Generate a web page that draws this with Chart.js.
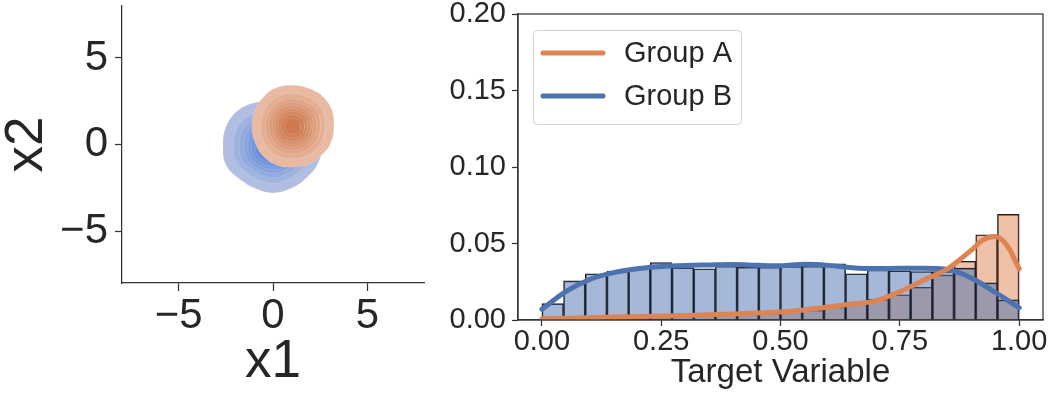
<!DOCTYPE html>
<html>
<head>
<meta charset="utf-8">
<script src="https://cdn.jsdelivr.net/npm/chart.js@4.4.1/dist/chart.umd.min.js"></script>
<style>
  html, body { margin: 0; padding: 0; background: #fff; }
  #wrap { position: relative; width: 1053px; height: 396px; overflow: hidden; }
  #kde2d { position: absolute; left: 0; top: 0; }
  #hist { position: absolute; left: 440px; top: 0; }
</style>
</head>
<body>
<div id="wrap">
  <canvas id="kde2d" width="440" height="396"></canvas>
  <canvas id="hist" width="613" height="396"></canvas>
</div>
<script>
// ---- left panel: bivariate density, one set of filled contours per group ----
const x1Ticks = [-5, 0, 5];
const x2Ticks = [-5, 0, 5];

// contour radii (x1 units), outermost first; aspect = y-radius / x-radius
const groupACenter = [1.05, 1.05];
const groupARadii = [2.2, 1.74, 1.47, 1.28, 1.1, 0.95, 0.79, 0.62, 0.42];
const groupAAspect = 1.09;
const groupAWobble = [0.99, 1.02, 1.02, 0.99, 0.99, 1.01, 1.0, 0.99, 0.98, 0.99, 1.01, 1.01, 0.98, 0.99, 0.98, 1.0];

const groupBCenter = [0.0, -0.12];
const groupBRadii = [2.65, 2.09, 1.78, 1.54, 1.33, 1.14, 0.95, 0.74, 0.5];
const groupBAspect = 1.01;
const groupBWobble = [0.98, 1.0, 1.0, 1.0, 0.97, 1.02, 1.05, 1.03, 1.0, 1.02, 0.97, 0.97, 1.0, 0.97, 0.95, 0.97];

// ---- right panel: histogram (probability per bin) + kde curves ----
const binCount = 22;
const groupABins = [0.0005, 0.001, 0.0012, 0.0015, 0.002, 0.002, 0.0025, 0.003, 0.0035, 0.004, 0.0045,
                    0.0055, 0.0065, 0.0085, 0.011, 0.0135, 0.0165, 0.0214, 0.0295, 0.0384, 0.0557, 0.069];
const groupBBins = [0.0107, 0.0256, 0.0302, 0.032, 0.0335, 0.0376, 0.0342, 0.0335, 0.0352, 0.0345, 0.0345,
                    0.035, 0.0352, 0.0367, 0.0302, 0.0327, 0.0322, 0.0317, 0.0317, 0.0339, 0.0243, 0.0132];

const kdeAx = [0, 0.1, 0.2, 0.3, 0.4, 0.5, 0.55, 0.6, 0.65, 0.7, 0.75, 0.8, 0.85, 0.9, 0.925, 0.95, 0.975, 1.0];
const kdeAy = [0.0008, 0.0015, 0.0022, 0.003, 0.004, 0.0052, 0.0066, 0.0085, 0.0105, 0.0125, 0.0185, 0.026,
               0.0335, 0.0457, 0.0525, 0.0545, 0.0485, 0.0335];
const kdeBx = [0, 0.05, 0.1, 0.15, 0.2, 0.25, 0.3, 0.35, 0.4, 0.45, 0.5, 0.55, 0.6, 0.65, 0.7, 0.75, 0.8,
               0.85, 0.9, 0.95, 1.0];
const kdeBy = [0.007, 0.0185, 0.0265, 0.031, 0.0335, 0.035, 0.0357, 0.036, 0.0363, 0.0358, 0.0354, 0.0364,
               0.0357, 0.0342, 0.0336, 0.0338, 0.0338, 0.033, 0.0275, 0.018, 0.008];

const targetTicks = [0, 0.25, 0.5, 0.75, 1];
const probTicks = [0, 0.05, 0.1, 0.15, 0.2];

const ink = '#262626';
const spine = '#333333';
const orange = '#dd8452';
const blue = '#4c72b0';

Chart.defaults.font.family = '"Liberation Sans", Arial, sans-serif';
Chart.defaults.color = ink;

function fmtSigned(v) {
  return v < 0 ? '\u2212' + Math.abs(v) : String(v);
}

function mix(a, b, t) {
  const c = a.map((v, i) => Math.round(v + (b[i] - v) * t));
  return `rgb(${c[0]},${c[1]},${c[2]})`;
}

// closed contour, drawn with a little overlap so the spline has no seam
function ring(center, r, aspect, wobble, weight) {
  const n = wobble.length;
  const pts = [];
  for (let k = -1; k <= n + 1; k++) {
    const i = (k + n) % n;
    const a = i / n * 2 * Math.PI;
    const w = 1 + (wobble[i] - 1) * weight;
    pts.push({ x: center[0] + r * w * Math.cos(a), y: center[1] + r * aspect * w * Math.sin(a) });
  }
  return pts;
}

function contourSets(center, radii, aspect, wobble, light, dark, baseOrder) {
  return radii.map((r, i) => ({
    data: ring(center, r, aspect, wobble, 1 - i * 0.08),
    showLine: true,
    fill: 'shape',
    tension: 0.4,
    pointRadius: 0,
    borderWidth: 0.7,
    borderColor: 'rgba(255,255,255,0.2)',
    backgroundColor: mix(light, dark, Math.pow(i / (radii.length - 1), 0.8)),
    order: baseOrder - i
  }));
}

function fixedTicks(values) {
  return scale => { scale.ticks = values.map(v => ({ value: v })); };
}

// force the axis box size and drop the label overhang padding chart.js adds
function fixWidth(w) {
  return s => { s.width = w; s.paddingTop = 0; s.paddingBottom = 0; };
}
function fixHeight(h) {
  return s => { s.height = h; s.paddingLeft = 0; s.paddingRight = 0; };
}

new Chart(document.getElementById('kde2d'), {
  type: 'scatter',
  data: {
    datasets: [
      ...contourSets(groupBCenter, groupBRadii, groupBAspect, groupBWobble, [176, 190, 226], [84, 130, 214], 100),
      ...contourSets(groupACenter, groupARadii, groupAAspect, groupAWobble, [233, 186, 163], [206, 122, 78], 50)
    ]
  },
  options: {
    responsive: false,
    animation: false,
    devicePixelRatio: 1,
    layout: { padding: { left: 0, top: 6, right: 16, bottom: 0 } },
    plugins: { legend: { display: false }, tooltip: { enabled: false } },
    scales: {
      x: {
        type: 'linear', min: -8, max: 8,
        afterBuildTicks: fixedTicks(x1Ticks),
        afterFit: fixHeight(113),
        grid: { drawOnChartArea: false, drawTicks: true, tickLength: 8, tickWidth: 1.25, tickColor: spine },
        border: { display: true, color: spine, width: 1.25 },
        ticks: { font: { size: 42, lineHeight: 1 }, color: ink, padding: 4, maxRotation: 0, autoSkip: false,
                 callback: v => fmtSigned(v) },
        title: { display: true, text: 'x1', color: ink, font: { size: 53, lineHeight: 1 }, padding: { top: 0, bottom: 7 } }
      },
      y: {
        type: 'linear', min: -8, max: 8,
        afterBuildTicks: fixedTicks(x2Ticks),
        afterFit: fixWidth(122),
        grid: { drawOnChartArea: false, drawTicks: true, tickLength: 7, tickWidth: 1.25, tickColor: spine },
        border: { display: true, color: spine, width: 1.25 },
        ticks: { font: { size: 42, lineHeight: 1 }, color: ink, padding: 7, autoSkip: false,
                 callback: v => fmtSigned(v) },
        title: { display: true, text: 'x2', color: ink, font: { size: 53, lineHeight: 1 }, padding: { top: 1, bottom: 0 } }
      }
    }
  }
});

// full box around the histogram axes
const boxFrame = {
  id: 'boxFrame',
  afterDatasetsDraw(chart) {
    const { ctx, chartArea: a } = chart;
    ctx.save();
    ctx.strokeStyle = spine;
    ctx.lineWidth = 1.25;
    ctx.strokeRect(a.left, a.top, a.right - a.left, a.bottom - a.top);
    ctx.restore();
  }
};

// matplotlib-style legend box inside the axes
const insideLegend = {
  id: 'insideLegend',
  afterDraw(chart) {
    const { ctx, chartArea: a } = chart;
    const items = chart.data.datasets.filter(d => d.type === 'line')
      .sort((p, q) => p.label.localeCompare(q.label));
    const x = a.left + 15, y = a.top + 16, w = 208, h = 94;
    ctx.save();
    ctx.fillStyle = 'rgba(255,255,255,0.8)';
    ctx.strokeStyle = 'rgba(204,204,204,0.9)';
    ctx.lineWidth = 1;
    ctx.beginPath();
    ctx.roundRect(x + 0.5, y + 0.5, w, h, 4);
    ctx.fill();
    ctx.stroke();
    items.forEach((d, i) => {
      const cy = y + 23 + i * 43;
      ctx.strokeStyle = d.borderColor;
      ctx.lineWidth = 5;
      ctx.lineCap = 'round';
      ctx.beginPath();
      ctx.moveTo(x + 10, cy);
      ctx.lineTo(x + 70, cy);
      ctx.stroke();
      ctx.fillStyle = ink;
      ctx.font = '29px "Liberation Sans", Arial, sans-serif';
      ctx.textBaseline = 'middle';
      ctx.fillText(d.label, x + 91, cy + 1);
    });
    ctx.restore();
  }
};

const binCenters = groupABins.map((_, i) => (i + 0.5) / binCount);
const barStyle = { type: 'bar', grouped: false, barPercentage: 1, categoryPercentage: 1,
                   borderColor: '#1e1e1e', borderWidth: 1 };
const lineStyle = { type: 'line', pointRadius: 0, borderWidth: 5, cubicInterpolationMode: 'monotone',
                    borderCapStyle: 'round', fill: false };

new Chart(document.getElementById('hist'), {
  type: 'bar',
  data: {
    datasets: [
      { ...lineStyle, label: 'Group A', data: kdeAx.map((x, i) => ({ x, y: kdeAy[i] })), borderColor: orange, order: 1 },
      { ...lineStyle, label: 'Group B', data: kdeBx.map((x, i) => ({ x, y: kdeBy[i] })), borderColor: blue, order: 2 },
      { ...barStyle, label: 'Group B bins', data: binCenters.map((x, i) => ({ x, y: groupBBins[i] })),
        backgroundColor: 'rgba(76,114,176,0.5)', order: 3 },
      { ...barStyle, label: 'Group A bins', data: binCenters.map((x, i) => ({ x, y: groupABins[i] })),
        backgroundColor: 'rgba(221,132,82,0.5)', order: 4 }
    ]
  },
  options: {
    responsive: false,
    animation: false,
    devicePixelRatio: 1,
    layout: { padding: { left: 0, top: 14, right: 10, bottom: 0 } },
    plugins: { legend: { display: false }, tooltip: { enabled: false } },
    scales: {
      x: {
        type: 'linear', min: -0.05, max: 1.05, offset: false,
        afterBuildTicks: fixedTicks(targetTicks),
        afterFit: fixHeight(76),
        grid: { offset: false, drawOnChartArea: false, drawTicks: true, tickLength: 6, tickWidth: 1.25, tickColor: spine },
        border: { display: true, color: spine, width: 1.25 },
        ticks: { font: { size: 29, lineHeight: 1 }, color: ink, padding: 1, maxRotation: 0, autoSkip: false,
                 callback: v => v.toFixed(2) },
        title: { display: true, text: 'Target Variable', color: ink, font: { size: 33, lineHeight: 1 },
                 padding: { top: 0, bottom: 7 } }
      },
      y: {
        type: 'linear', min: 0, max: 0.2,
        afterBuildTicks: fixedTicks(probTicks),
        afterFit: fixWidth(78),
        grid: { drawOnChartArea: false, drawTicks: true, tickLength: 6, tickWidth: 1.25, tickColor: spine },
        border: { display: true, color: spine, width: 1.25 },
        ticks: { font: { size: 29, lineHeight: 1 }, color: ink, padding: 6, autoSkip: false,
                 callback: v => v.toFixed(2) }
      }
    }
  },
  plugins: [boxFrame, insideLegend]
});
</script>
</body>
</html>
